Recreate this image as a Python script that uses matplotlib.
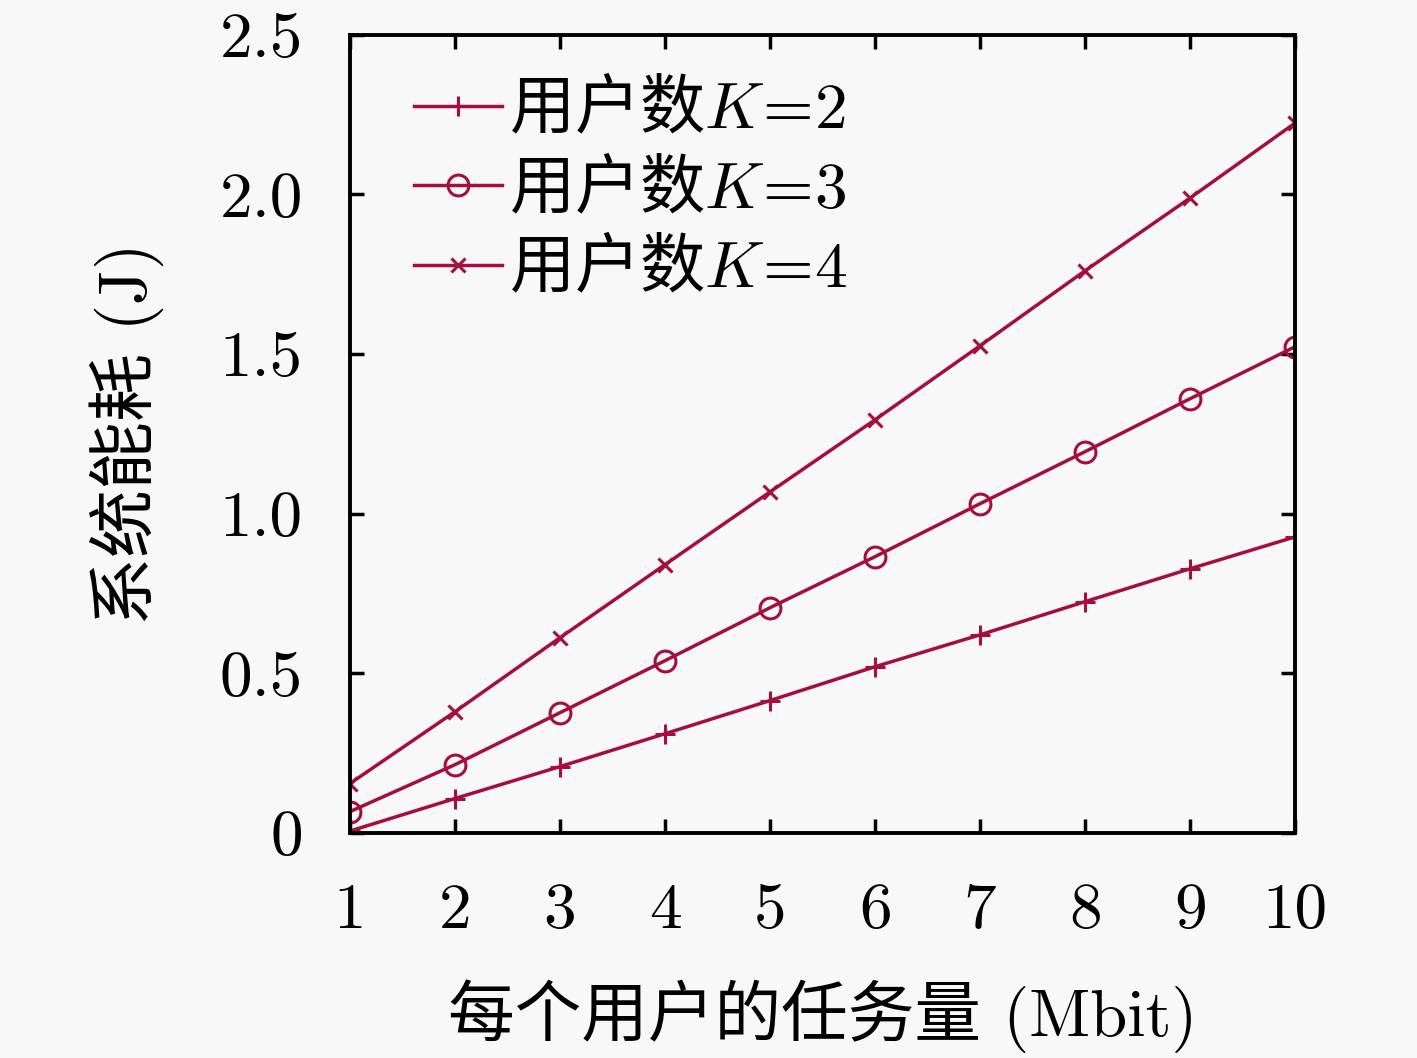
import numpy as np
import matplotlib
matplotlib.use("Agg")
from matplotlib import pyplot as plt

plt.rcParams['font.family'] = ['cmr10', 'Noto Sans CJK SC', 'DejaVu Sans']
plt.rcParams['mathtext.fontset'] = 'cm'
plt.rcParams['axes.formatter.use_mathtext'] = True

#datos
tareas = [1, 2, 3, 4, 5, 6, 7, 8, 9, 10]
energia_k2 = [0.005, 0.107, 0.207, 0.31, 0.414, 0.52, 0.62, 0.724, 0.827, 0.927]
energia_k3 = [0.066, 0.213, 0.376, 0.539, 0.705, 0.865, 1.031, 1.194, 1.36, 1.523]
energia_k4 = [0.154, 0.379, 0.611, 0.84, 1.068, 1.294, 1.526, 1.761, 1.989, 2.224]
yticks = [0, 0.5, 1.0, 1.5, 2.0, 2.5]
ytick_labels = ["0", "0.5", "1.0", "1.5", "2.0", "2.5"]

color = "#A50F3D"
fs = 47

fig = plt.figure(figsize=(14.17, 10.58), dpi=100)
fig.patch.set_facecolor("#f8f8f8")
ax = fig.add_axes([0.247, 0.213, 0.667, 0.754])
ax.set_facecolor("#f8f8f8")

ax.plot(tareas, energia_k2, color=color, lw=2.5, marker="+", ms=15, mew=2.2, label="用户数$K\\!=\\!2$")
ax.plot(tareas, energia_k3, color=color, lw=2.5, marker="o", ms=15, mew=2.2, mfc="none", label="用户数$K\\!=\\!3$")
ax.plot(tareas, energia_k4, color=color, lw=2.5, marker="x", ms=10, mew=2.2, label="用户数$K\\!=\\!4$")

ax.set_xlim(1, 10)
ax.set_ylim(0, 2.5)
ax.set_xticks(tareas)
ax.set_xticklabels([str(t) for t in tareas])
ax.set_yticks(yticks)
ax.set_yticklabels(ytick_labels)
ax.tick_params(direction="in", length=10, width=2.5, labelsize=fs, top=True, right=True)
ax.tick_params(axis="y", pad=34)
ax.tick_params(axis="x", pad=36)
for s in ax.spines.values():
    s.set_linewidth(2.8)

ax.set_xlabel("每个用户的任务量 (Mbit)", fontsize=48, labelpad=28)
ax.set_ylabel("系统能耗 (J)", fontsize=49, labelpad=40)

ax.legend(loc="upper left", frameon=False, handlelength=1.35, handletextpad=0.1,
          labelspacing=0.2, borderaxespad=0.0, bbox_to_anchor=(0.04, 0.98),
          prop={'family': 'Noto Sans CJK SC', 'size': fs})

plt.savefig("out.png", dpi=100, facecolor=fig.get_facecolor())
